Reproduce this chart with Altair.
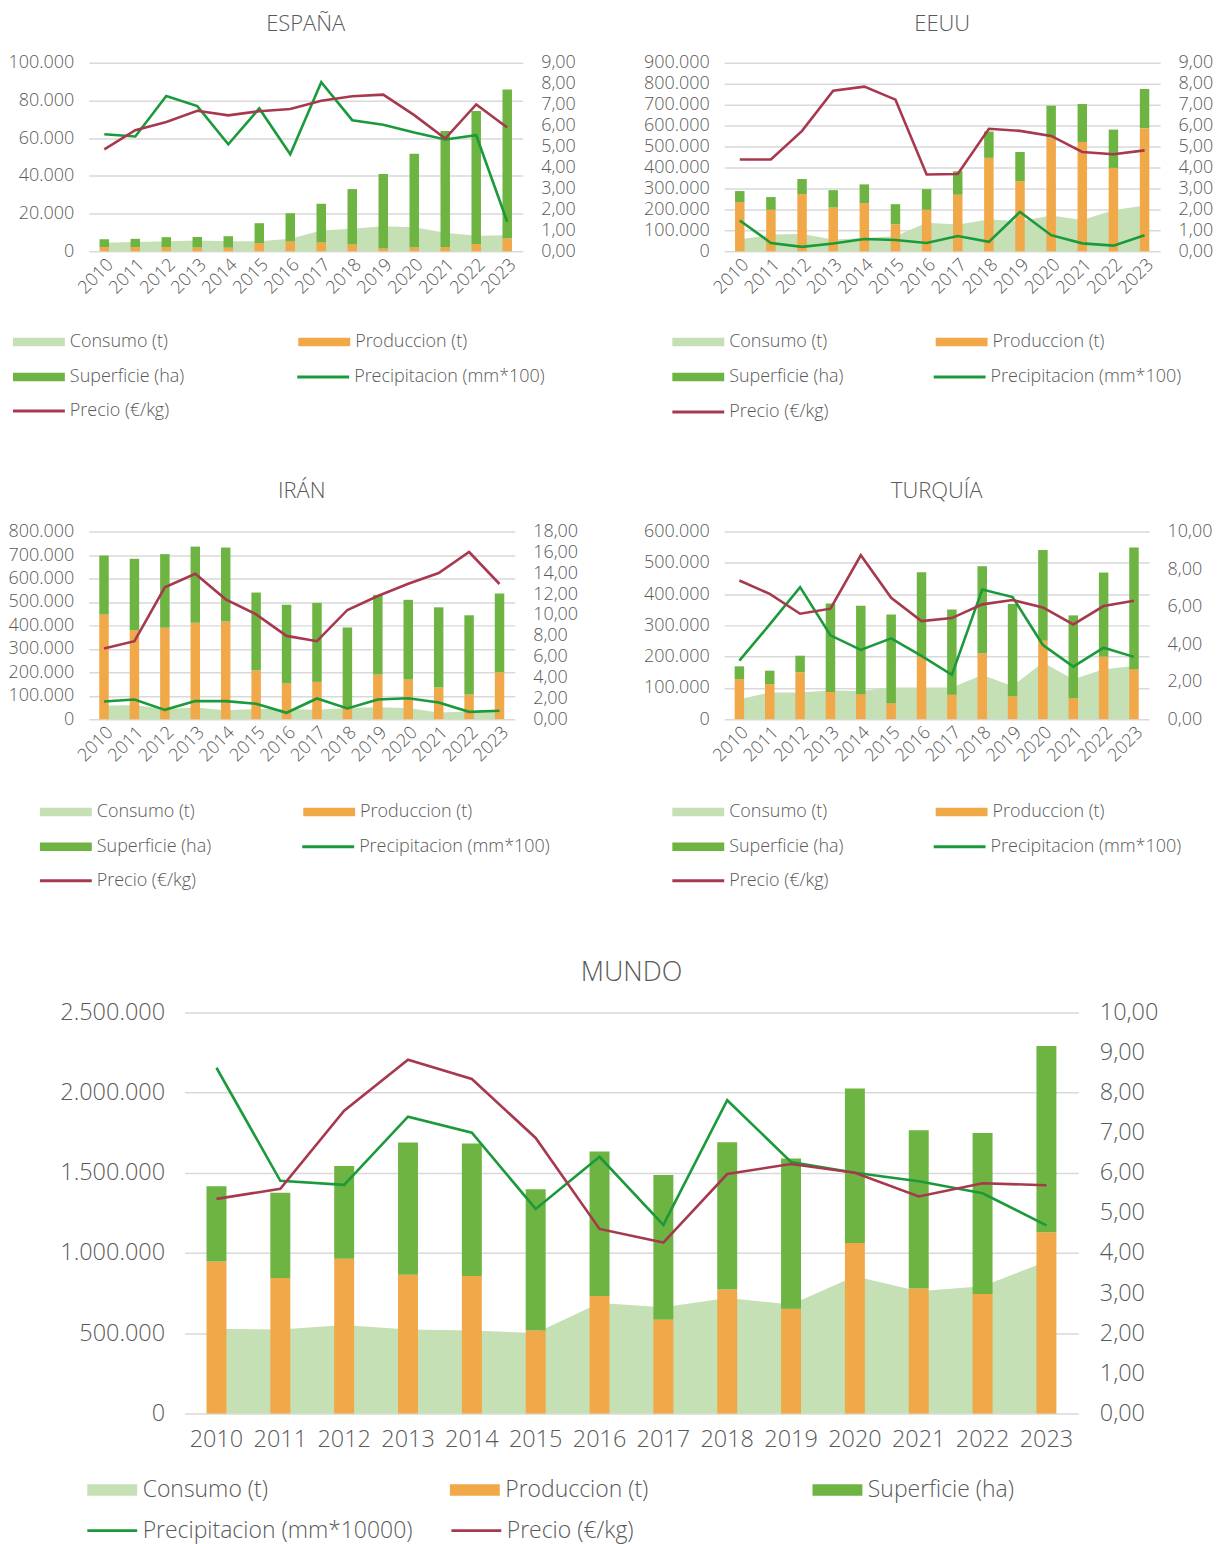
import altair as alt
import pandas as pd

YEARS = list(range(2010, 2024))

# ---------------- ESPAÑA ----------------
ESP_CONSUMO = [4600, 5000, 5300, 5700, 5300, 5300, 6600, 11000, 11900, 13300, 12800, 9800, 8200, 8500]
ESP_PRODUCCION = [2300, 2300, 2300, 2100, 2000, 4400, 5300, 4800, 3700, 1600, 2100, 2300, 3900, 6900]
ESP_SUPERFICIE = [4100, 4300, 5200, 5500, 6000, 10500, 14900, 20400, 29300, 39400, 49600, 61500, 70500, 78900]
ESP_PRECIPITACION = [5.59, 5.48, 7.41, 6.93, 5.11, 6.82, 4.63, 8.07, 6.26, 6.04, 5.67, 5.34, 5.54, 1.41]
ESP_PRECIO = [4.87, 5.78, 6.17, 6.71, 6.49, 6.69, 6.79, 7.19, 7.40, 7.48, 6.50, 5.38, 7.01, 5.91]

# ---------------- EEUU ----------------
USA_CONSUMO = [56000, 80000, 83000, 56000, 64000, 72000, 136000, 128000, 152000, 144000, 171000, 149000, 196000, 219000]
USA_PRODUCCION = [235000, 198000, 273000, 209000, 230000, 129000, 198000, 270000, 446000, 335000, 543000, 522000, 398000, 588000]
USA_SUPERFICIE = [52500, 61000, 72000, 83000, 89500, 96000, 99000, 112000, 126000, 139000, 152000, 181000, 183000, 187000]
USA_PRECIPITACION = [1.47, 0.40, 0.21, 0.37, 0.59, 0.54, 0.40, 0.73, 0.45, 1.88, 0.77, 0.38, 0.27, 0.77]
USA_PRECIO = [4.38, 4.38, 5.75, 7.67, 7.86, 7.24, 3.67, 3.69, 5.85, 5.75, 5.51, 4.74, 4.63, 4.82]

# ---------------- IRÁN ----------------
IRN_CONSUMO = [57000, 60000, 43000, 50000, 38000, 43000, 43000, 40000, 48000, 51000, 48000, 28000, 33000, 35000]
IRN_PRODUCCION = [447000, 379000, 390000, 411000, 416000, 208000, 152000, 159000, 50000, 190000, 169000, 135000, 105000, 200000]
IRN_SUPERFICIE = [251000, 305000, 314000, 325000, 316000, 332000, 336000, 337000, 341000, 340000, 340000, 342000, 338000, 336000]
IRN_PRECIPITACION = [1.69, 1.88, 0.89, 1.73, 1.73, 1.47, 0.61, 1.98, 1.02, 1.88, 2.01, 1.60, 0.70, 0.80]
IRN_PRECIO = [6.77, 7.48, 12.65, 13.96, 11.50, 10.06, 7.99, 7.48, 10.48, 11.82, 13.00, 14.03, 16.04, 12.97]

# ---------------- TURQUÍA ----------------
TUR_CONSUMO = [64000, 85000, 85000, 92000, 90000, 101000, 101000, 101000, 141000, 106000, 181000, 128000, 160000, 170000]
TUR_PRODUCCION = [128000, 112000, 150000, 87000, 80000, 51000, 200000, 78000, 211000, 73000, 251000, 67000, 200000, 160000]
TUR_SUPERFICIE = [41000, 43000, 53000, 283000, 283000, 284000, 270000, 273000, 278000, 295000, 290000, 265000, 269000, 389000]
TUR_PRECIPITACION = [3.12, 5.05, 7.04, 4.47, 3.69, 4.31, 3.37, 2.36, 6.91, 6.51, 3.95, 2.80, 3.81, 3.32]
TUR_PRECIO = [7.39, 6.68, 5.62, 5.89, 8.74, 6.47, 5.23, 5.39, 6.12, 6.35, 5.96, 5.05, 6.03, 6.31]

# ---------------- MUNDO ----------------
WLD_CONSUMO = [527700, 523600, 550500, 523600, 517400, 500800, 689000, 662000, 720000, 679000, 854700, 761600, 792600, 947800]
WLD_PRODUCCION = [947800, 844000, 964400, 865000, 856800, 517400, 732600, 585700, 772000, 651900, 1061700, 778100, 745000, 1130000]
WLD_SUPERFICIE = [467800, 532000, 577400, 823700, 825700, 879600, 900400, 900300, 918800, 937500, 964400, 987200, 1003800, 1161000]
WLD_PRECIPITACION = [8.62, 5.80, 5.70, 7.40, 7.00, 5.10, 6.40, 4.70, 7.81, 6.27, 6.00, 5.79, 5.49, 4.69]
WLD_PRECIO = [5.35, 5.60, 7.55, 8.82, 8.34, 6.87, 4.60, 4.26, 5.97, 6.22, 6.00, 5.41, 5.74, 5.69]

FILL_SERIES = ["Consumo (t)", "Produccion (t)", "Superficie (ha)"]
FILL_COLORS = ["#C5E0B4", "#F0A848", "#6DB443"]
PRECIO_LABEL = "Precio (€/kg)"
PRECIP_COLOR = "#1B9A3C"
PRECIO_COLOR = "#A7394E"
TEXT = "#595959"
GRID = "#D9D9D9"
FONT = "Open Sans"
FW = 300

LEFT_EXPR = "replace(format(datum.value, ',.0f'), regexp(',', 'g'), '.')"
RIGHT_EXPR = "replace(format(datum.value, '.2f'), '.', ',')"


def panel(title, consumo, prod, sup, precip, precio, precip_label,
          ymax, ystep, rmax, rstep, L):
    df_area = pd.DataFrame({"year": YEARS, "value": consumo, "serie": FILL_SERIES[0]})
    df_bar = pd.concat([
        pd.DataFrame({"year": YEARS, "value": prod, "serie": FILL_SERIES[1], "orden": 0}),
        pd.DataFrame({"year": YEARS, "value": sup, "serie": FILL_SERIES[2], "orden": 1}),
    ])
    df_pp = pd.DataFrame({"year": YEARS, "value": precip, "serie": precip_label})
    df_pr = pd.DataFrame({"year": YEARS, "value": precio, "serie": PRECIO_LABEL})

    px, py = L["plot"]
    yc = L["yc"]

    def lpos(col, row):
        return dict(legendX=L["cols"][col] - px, legendY=L["rows"][row] - py - yc)

    common_leg = dict(orient="none", title=None, labelFont=FONT, labelFontWeight=FW,
                      labelFontSize=L["lfs"], labelColor=TEXT, symbolSize=100,
                      symbolOffset=L["symoff"], labelOffset=L["laboff"], padding=0,
                      labelLimit=400, symbolOpacity=1)

    x = alt.X("year:O", title=None,
              scale=alt.Scale(type="band", paddingInner=0, paddingOuter=0),
              axis=alt.Axis(labelAngle=L["xangle"], labelFont=FONT, labelFontWeight=FW,
                            labelFontSize=L["xfs"], labelColor=TEXT, ticks=False,
                            domain=False, grid=False, labelPadding=L["xpad"]))

    yscale = alt.Scale(domain=[0, ymax], nice=False, zero=True)
    yaxis = alt.Axis(values=list(range(0, ymax + 1, ystep)), labelExpr=LEFT_EXPR,
                     grid=True, gridColor=GRID, gridWidth=1.5, ticks=False, domain=False,
                     labelFont=FONT, labelFontWeight=FW, labelFontSize=L["fs"],
                     labelColor=TEXT, labelPadding=L["ypadL"], title=None)
    rvals = [v * rstep for v in range(0, int(round(rmax / rstep)) + 1)]
    rscale = alt.Scale(domain=[0, rmax], nice=False, zero=True)
    raxis = alt.Axis(orient="right", values=rvals, labelExpr=RIGHT_EXPR, grid=False,
                     ticks=False, domain=False, labelFont=FONT, labelFontWeight=FW,
                     labelFontSize=L["fs"], labelColor=TEXT, labelPadding=L["ypadR"],
                     title=None)

    fill = alt.Fill("serie:N", scale=alt.Scale(domain=FILL_SERIES, range=FILL_COLORS),
                    legend=alt.Legend(columns=L["fcols"], direction="horizontal",
                                      symbolType=L["rect"], symbolStrokeWidth=0,
                                      rowPadding=L["rowpad"], columnPadding=L["colpad"],
                                      gridAlign="all", **lpos(*L["fill_at"]), **common_leg))

    area = alt.Chart(df_area).mark_area(opacity=1, interpolate="linear").encode(
        x=x, y=alt.Y("value:Q", stack=None, scale=yscale, axis=yaxis), fill=fill)
    bars = alt.Chart(df_bar).mark_bar(size=L["bar"]).encode(
        x=x, y=alt.Y("value:Q", stack="zero", scale=yscale, axis=yaxis), fill=fill,
        order=alt.Order("orden:Q"))

    pp = alt.Chart(df_pp).mark_line(strokeWidth=L["lw"]).encode(
        x=x, y=alt.Y("value:Q", scale=rscale, axis=raxis),
        stroke=alt.Stroke("serie:N", scale=alt.Scale(domain=[precip_label], range=[PRECIP_COLOR]),
                          legend=alt.Legend(symbolType=L["line"], symbolStrokeWidth=3,
                                            **lpos(*L["pp_at"]), **common_leg)))
    pr = alt.Chart(df_pr).mark_line(strokeWidth=L["lw"]).encode(
        x=x, y=alt.Y("value:Q", scale=rscale, axis=raxis),
        color=alt.Color("serie:N", scale=alt.Scale(domain=[PRECIO_LABEL], range=[PRECIO_COLOR]),
                        legend=alt.Legend(symbolType=L["line"], symbolStrokeWidth=3,
                                          **lpos(*L["pr_at"]), **common_leg)))

    left = alt.layer(area, bars)
    right = alt.layer(pp, pr)
    return alt.layer(left, right).resolve_scale(y="independent").properties(
        width=L["w"], height=L["h"],
        title=alt.TitleParams(text=title, font=FONT, fontWeight=FW, fontSize=L["tfs"],
                              color=TEXT, offset=L["toff"], anchor="middle",
                              baseline="bottom"))


SMALL = dict(bar=9.5, fs=18, xfs=18, tfs=22, toff=-2, lfs=18, xangle=-45, xpad=4,
             ypadL=15, ypadR=18, lw=2.6, fcols=2, yc=7,
             rect="M-5.2,-0.85H5.2V0.85H-5.2Z", line="M-5.2,0H5.2",
             symoff=17, laboff=22, rowpad=17, colpad=92,
             fill_at=(0, 0), pp_at=(1, 1), pr_at=(0, 2))

L_ESP = dict(SMALL, w=435, h=189, toff=-4, colpad=114, plot=(91, 62), cols=[15, 300],
             rows=[340, 375, 409])
L_USA = dict(SMALL, w=437, h=189, toff=-4, plot=(726, 62), cols=[674, 936],
             rows=[340, 375, 410])
L_IRN = dict(SMALL, w=427, h=188, plot=(91, 532), cols=[42, 305], rows=[811, 846, 880])
L_TUR = dict(SMALL, w=426, h=188, plot=(726, 532), cols=[674, 936], rows=[811, 846, 880])
L_WLD = dict(bar=20, fs=23.5, xfs=23.5, tfs=27, toff=-14, lfs=23, xangle=0, xpad=14,
             ypadL=20, ypadR=21, lw=2.6, fcols=3, yc=12,
             rect="M-5,-1.15H5V1.15H-5Z", line="M-5,0H5",
             symoff=16, laboff=19, rowpad=19, colpad=158.5,
             fill_at=(0, 0), pp_at=(0, 1), pr_at=(1, 1),
             w=896, h=402, plot=(185, 1012), cols=[85, 450, 812], rows=[1491, 1532])

esp = panel("ESPAÑA", ESP_CONSUMO, ESP_PRODUCCION, ESP_SUPERFICIE, ESP_PRECIPITACION, ESP_PRECIO,
            "Precipitacion (mm*100)", 100000, 20000, 9, 1, L_ESP)
usa = panel("EEUU", USA_CONSUMO, USA_PRODUCCION, USA_SUPERFICIE, USA_PRECIPITACION, USA_PRECIO,
            "Precipitacion (mm*100)", 900000, 100000, 9, 1, L_USA)
irn = panel("IRÁN", IRN_CONSUMO, IRN_PRODUCCION, IRN_SUPERFICIE, IRN_PRECIPITACION, IRN_PRECIO,
            "Precipitacion (mm*100)", 800000, 100000, 18, 2, L_IRN)
tur = panel("TURQUÍA", TUR_CONSUMO, TUR_PRODUCCION, TUR_SUPERFICIE, TUR_PRECIPITACION, TUR_PRECIO,
            "Precipitacion (mm*100)", 600000, 100000, 10, 2, L_TUR)
wld = panel("MUNDO", WLD_CONSUMO, WLD_PRODUCCION, WLD_SUPERFICIE, WLD_PRECIPITACION, WLD_PRECIO,
            "Precipitacion (mm*10000)", 2500000, 500000, 10, 1, L_WLD)

spacer = alt.Chart(pd.DataFrame({"v": [0]})).mark_point(opacity=0).encode(
    x=alt.value(0), y=alt.value(0)).properties(width=1, height=1)

IND = dict(fill="independent", stroke="independent", color="independent")

row1 = alt.hconcat(esp, usa, spacing=68).resolve_scale(**IND)
row2 = alt.hconcat(irn, tur, spacing=66).resolve_scale(**IND)
row3 = alt.hconcat(spacer, wld, spacing=-33).resolve_scale(**IND)
top = alt.concat(row1, row2, columns=1, align="none", spacing=59).resolve_scale(**IND)
chart = alt.concat(top, row3, columns=1, align="none", spacing=70).resolve_scale(**IND).properties(
    padding={"left": 0, "top": 3, "right": 0, "bottom": 0}, background="white"
).configure_view(stroke=None)

chart.save("out.html", embed_options={"renderer": "svg", "actions": False})
